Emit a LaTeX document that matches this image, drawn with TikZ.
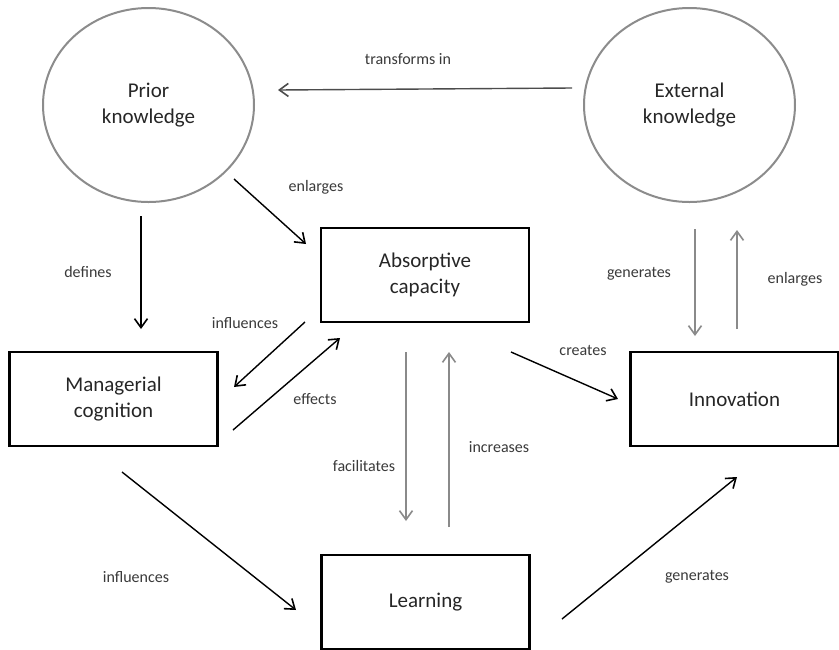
\documentclass[tikz,border=0pt]{standalone}
\usepackage{fontspec}
\setmainfont{Carlito}
\usetikzlibrary{arrows.meta,shapes.geometric}
\definecolor{txt}{HTML}{262626}
\definecolor{lbl}{HTML}{3A3A3A}
\definecolor{circ}{HTML}{8C8C8C}
\definecolor{garr}{HTML}{8A8A8A}
\begin{document}
\begin{tikzpicture}[x=1pt,y=-1pt,
  knode/.style={ellipse,draw=circ,line width=2pt,minimum width=211pt,minimum height=194pt,
     align=center,font=\fontsize{21}{26}\selectfont,text=txt,inner sep=0pt},
  bnode/.style={rectangle,draw=black,line width=2.4pt,minimum width=208pt,minimum height=94pt,
     align=center,font=\fontsize{21}{26}\selectfont,text=txt,inner sep=0pt},
  lab/.style={font=\fontsize{16}{19}\selectfont,text=lbl,inner sep=0pt},
  arr/.style={line width=1.4pt,-{Straight Barb[length=9pt,width=13pt,line width=1.6pt]}},
  garrow/.style={arr,draw=garr},
  barrow/.style={arr,draw=black}]
\useasboundingbox (0,0) rectangle (839,649);
\fill[white] (0,0) rectangle (839,649);

% nodes
\node[knode] (pk) at (148.5,105) {Prior\\knowledge};
\node[knode] (ek) at (689.5,105) {External\\knowledge};
\node[bnode] (ac) at (425,275) {Absorptive\\capacity};
\node[bnode] (mc) at (113.5,399) {Managerial\\cognition};
\node[bnode] (in) at (734.5,399) {Innovation};
\node[bnode] (le) at (425.5,602) {Learning};

% arrow end points
\coordinate (ti-s) at (572,88);   \coordinate (ti-e) at (278,90);
\coordinate (en-s) at (234,179);  \coordinate (en-e) at (306,244);
\coordinate (de-s) at (141,216);  \coordinate (de-e) at (141,329);
\coordinate (iu-s) at (305,322);  \coordinate (iu-e) at (234,387);
\coordinate (ef-s) at (233,430);  \coordinate (ef-e) at (340,338);
\coordinate (fa-s) at (406,352);  \coordinate (fa-e) at (406,521);
\coordinate (ic-s) at (449,527);  \coordinate (ic-e) at (449,352);
\coordinate (cr-s) at (511,352);  \coordinate (cr-e) at (618,399);
\coordinate (gt-s) at (695,229);  \coordinate (gt-e) at (695,336);
\coordinate (et-s) at (737,329);  \coordinate (et-e) at (737,230);
\coordinate (il-s) at (122,472);  \coordinate (il-e) at (296,610);
\coordinate (gb-s) at (562,619);  \coordinate (gb-e) at (737,477);

% connectors
\draw[arr,draw=black!70] (ti-s) -- (ti-e);
\draw[barrow] (en-s) -- (en-e);
\draw[barrow] (de-s) -- (de-e);
\draw[barrow] (iu-s) -- (iu-e);
\draw[barrow] (ef-s) -- (ef-e);
\draw[garrow] (fa-s) -- (fa-e);
\draw[garrow] (ic-s) -- (ic-e);
\draw[barrow] (cr-s) -- (cr-e);
\draw[garrow] (gt-s) -- (gt-e);
\draw[garrow] (et-s) -- (et-e);
\draw[barrow] (il-s) -- (il-e);
\draw[barrow] (gb-s) -- (gb-e);

% labels
\node[lab] (l-ti) at (408,59) {transforms in};
\node[lab] (l-en) at (316,187) {enlarges};
\node[lab] (l-de) at (88,272) {defines};
\node[lab] (l-iu) at (245,323) {influences};
\node[lab] (l-ef) at (315,399) {effects};
\node[lab] (l-fa) at (364,466) {facilitates};
\node[lab] (l-ic) at (499,447) {increases};
\node[lab] (l-cr) at (583,350) {creates};
\node[lab] (l-gt) at (639,274) {generates};
\node[lab] (l-et) at (795,279) {enlarges};
\node[lab] (l-il) at (136,577) {influences};
\node[lab] (l-gb) at (697,577) {generates};
\end{tikzpicture}
\end{document}
